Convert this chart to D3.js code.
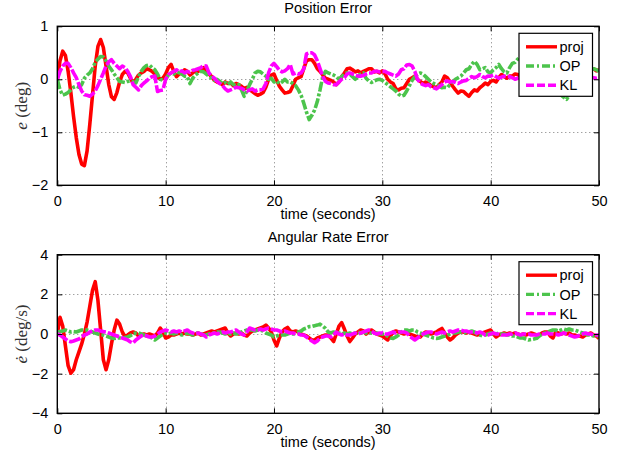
<!DOCTYPE html>
<html>
<head>
<meta charset="utf-8">
<script src="https://cdn.jsdelivr.net/npm/d3@7"></script>
<style>
  html, body { margin: 0; padding: 0; background: #fff; }
  svg { display: block; }
  text { font-family: "Liberation Sans", Arial, Helvetica, sans-serif; fill: #000; }
</style>
</head>
<body>
<svg id="fig" width="628" height="455"></svg>
<script>
// Sample times (s): one sample every 0.25 s from 0 to 50
const sampleStep = 0.25;
const time = d3.range(0, 201).map(i => i * sampleStep);

const seriesNames = ["proj", "OP", "KL"];
const xTicks = [0, 10, 20, 30, 40, 50];
const posTicks = [-2, -1, 0, 1];
const rateTicks = [-4, -2, 0, 2, 4];

// Position error e (deg)
const posProj = [
  0, 0.35, 0.53, 0.45,   0.15, -0.25, -0.7, -1.1,   -1.42, -1.6, -1.63, -1.35,
  -0.85, -0.3, 0.25, 0.62,   0.75, 0.6, 0.25, -0.1,   -0.33, -0.38, -0.25, -0.05,
  0.09, 0.15, 0.12, 0.02,   -0.07, 0.0, 0.08, 0.12,   0.15, 0.2, 0.18, 0.15,
  0.1, 0.05, 0.0, 0.02,   0.1, 0.22, 0.28, 0.15,   0.05, 0.1, 0.12, 0.18,
  0.15, 0.08, 0.12, 0.16,   0.15, 0.2, 0.22, 0.15,   0.1, 0.05, -0.02, -0.05,
  -0.07, -0.1, -0.05, -0.08,   -0.07, -0.12, -0.08, -0.1,   -0.13, -0.18, -0.15, -0.2,
  -0.23, -0.27, -0.3, -0.28,   -0.25, -0.15, 0.0, 0.08,   0.1, -0.02, -0.13, -0.2,
  -0.26, -0.25, -0.23, -0.12,   0.0, 0.03, 0.05, 0.2,   0.35, 0.37, 0.37, 0.3,
  0.2, 0.15, 0.08, 0.02,   0.0, -0.02, -0.05, -0.1,   -0.05, 0.05, 0.12, 0.2,
  0.21, 0.18, 0.14, 0.16,   0.12, 0.15, 0.17, 0.2,   0.2, 0.14, 0.15, 0.12,
  0.16, 0.1, 0.0, -0.05,   -0.08, -0.18, -0.2, -0.17,   -0.16, -0.08, 0.0, 0.03,
  0.06, 0.0, -0.04, -0.08,   -0.05, -0.08, -0.12, -0.14,   -0.16, -0.1, -0.05, 0.06,
  0.03, -0.05, -0.13, -0.2,   -0.26, -0.22, -0.23, -0.28,   -0.32, -0.25, -0.2, -0.22,
  -0.16, -0.12, -0.07, -0.1,   -0.04, -0.02, -0.05, 0.03,   0.09, 0.05, 0.02, 0.06,
  0.06, 0.1, 0.09, 0.05,   0.02, 0.05, 0.1, 0.12,   0.08, 0.1, 0.14, 0.1,
  0.06, 0.08, 0.12, 0.15,   0.1, 0.05, 0.08, 0.12,   0.15, 0.1, 0.06, 0.1,
  0.14, 0.18, 0.12, 0.1,   0.15, 0.18, 0.2, 0.16,   0.18
];
const posOP = [
  0, -0.2, -0.3, -0.28,   -0.25, -0.2, -0.15, -0.13,   -0.15, -0.1, 0.02, 0.08,
  0.12, 0.2, 0.32, 0.38,   0.43, 0.42, 0.35, 0.25,   0.18, 0.1, 0.03, -0.04,
  -0.05, -0.06, -0.04, -0.03,   -0.05, -0.07, 0.05, 0.15,   0.22, 0.26, 0.27, 0.22,
  0.18, 0.1, 0.0, -0.02,   0.0, 0.08, 0.12, 0.1,   0.14, 0.12, 0.1, 0.06,
  0.05, -0.08, 0.02, 0.08,   0.12, 0.15, 0.14, 0.1,   0.06, 0.02, -0.02, 0.0,
  -0.04, -0.08, -0.06, -0.1,   -0.05, -0.1, -0.12, -0.1,   -0.2, -0.32, -0.22, -0.1,
  0.0, 0.12, 0.15, 0.14,   0.1, 0.06, 0.0, 0.02,   -0.05, -0.03, -0.08, -0.05,
  0.0, -0.05, -0.05, -0.08,   -0.12, -0.2, -0.3, -0.45,   -0.62, -0.76, -0.68, -0.58,
  -0.42, -0.2, 0.05, 0.15,   0.12, 0.1, 0.08, 0.05,   0.0, 0.05, 0.1, 0.12,
  0.1, 0.05, 0.0, 0.05,   0.1, 0.12, 0.02, -0.03,   -0.06, -0.03, -0.01, 0.0,
  -0.02, -0.06, -0.1, -0.14,   -0.18, -0.22, -0.28, -0.32,   -0.3, -0.22, -0.12, -0.02,
  0.05, 0.1, 0.12, 0.1,   0.05, 0.0, -0.05, -0.08,   -0.1, -0.12, -0.16, -0.15,
  -0.16, -0.1, -0.04, 0.0,   0.03, 0.06, 0.12, 0.18,   0.2, 0.28, 0.34, 0.28,
  0.18, 0.2, 0.22, 0.14,   0.12, 0.18, 0.22, 0.28,   0.2, 0.14, 0.12, 0.22,
  0.3, 0.32, 0.38, 0.42,   0.35, 0.3, 0.25, 0.2,   0.15, 0.1, 0.05, 0.0,
  -0.05, -0.1, -0.15, -0.2,   -0.22, -0.26, -0.3, -0.34,   -0.38, -0.3, -0.2, -0.1,
  0.0, 0.05, 0.1, 0.12,   0.15, 0.18, 0.2, 0.18,   0.15
];
const posKL = [
  0, 0.15, 0.25, 0.3,   0.3, 0.22, 0.12, 0.03,   -0.1, -0.22, -0.29, -0.3,
  -0.32, -0.28, -0.22, -0.12,   0.0, 0.12, 0.25, 0.33,   0.37, 0.3, 0.25, 0.2,
  0.25, 0.22, 0.15, 0.05,   -0.1, -0.15, -0.2, -0.12,   -0.07, -0.03, 0.02, 0.05,
  0.06, -0.23, -0.21, -0.2,   0.0, 0.09, 0.12, 0.15,   0.18, 0.14, 0.16, 0.12,
  0.15, 0.13, 0.17, 0.18,   0.2, 0.22, 0.26, 0.25,   0.12, 0.06, 0.02, -0.04,
  -0.08, -0.12, -0.18, -0.22,   -0.2, -0.18, -0.15, -0.16,   -0.17, -0.2, -0.22, -0.2,
  -0.18, -0.22, -0.2, -0.2,   -0.18, -0.08, 0.12, 0.25,   0.3, 0.24, 0.17, 0.14,
  0.16, 0.2, 0.28, 0.1,   0.12, 0.1, 0.12, 0.2,   0.48, 0.5, 0.5, 0.46,
  0.35, 0.2, 0.05, -0.04,   -0.07, -0.08, -0.1, -0.1,   -0.05, 0.0, 0.03, 0.1,
  0.12, 0.1, 0.08, 0.06,   0.06, 0.07, 0.1, 0.12,   0.12, 0.15, 0.15, 0.14,
  0.15, 0.15, 0.12, 0.1,   0.08, 0.06, 0.1, 0.18,   0.2, 0.27, 0.28, 0.25,
  0.15, 0.0, -0.07, -0.1,   -0.12, -0.1, -0.14, -0.16,   -0.18, -0.14, -0.1, -0.05,
  -0.03, -0.05, -0.04, -0.06,   -0.08, -0.05, -0.03, -0.02,   0.02, 0.05, 0.03, 0.05,
  0.09, 0.05, 0.03, 0.06,   0.06, 0.08, 0.05, 0.02,   0.04, 0.06, 0.05, 0.05,
  0.03, 0.0, 0.02, 0.05,   0.04, 0.06, 0.08, 0.05,   0.03, 0.05, 0.07, 0.04,
  0.02, 0.04, 0.06, 0.05,   0.03, 0.05, 0.08, 0.06,   0.05, 0.07, 0.04, 0.02,
  0.04, 0.06, 0.05, 0.03,   0.02, 0.04, 0.03, 0.02,   0.03
];

// Angular rate error (deg/s)
const rateProj = [
  0, 0.84, 0.4, -0.6,   -1.6, -1.98, -1.8, -1.3,   -0.9, -0.5, 0.0, 0.6,
  1.4, 2.2, 2.64, 1.7,   0.2, -1.3, -1.8, -1.3,   -0.5, 0.2, 0.7, 0.5,
  0.1, -0.13, -0.05, 0.05,   0.1, 0.05, -0.1, -0.05,   0.0, -0.05, 0.0, -0.05,
  -0.1, 0.05, 0.3, 0.1,   -0.2, -0.15, -0.05, -0.05,   0.0, 0.05, 0.0, 0.05,
  0.0, 0.0, -0.05, 0.0,   0.05, -0.05, 0.0, 0.05,   0.1, 0.15, 0.1, 0.15,
  0.2, 0.25, 0.3, 0.05,   -0.1, 0.0, 0.05, 0.0,   0.05, -0.05, -0.1, 0.05,
  0.15, 0.2, 0.25, 0.3,   0.35, 0.45, 0.3, 0.1,   -0.3, -0.6, -0.2, 0.1,
  0.25, 0.33, 0.15, 0.1,   0.15, 0.1, 0.0, -0.05,   -0.1, -0.2, -0.3, -0.3,
  -0.2, -0.15, -0.1, -0.05,   -0.05, -0.2, -0.38, 0.0,   0.4, 0.57, 0.25, -0.1,
  -0.38, -0.2, 0.0, 0.1,   0.2, 0.15, 0.0, 0.1,   0.2, 0.1, 0.0, -0.05,
  -0.1, -0.2, -0.3, -0.1,   0.1, 0.15, 0.1, 0.05,   0.0, 0.05, 0.0, -0.05,
  -0.1, -0.15, -0.15, 0.0,   0.1, 0.05, 0.0, 0.05,   0.1, 0.2, 0.28, 0.05,
  -0.15, -0.3, -0.2, -0.05,   0.05, 0.1, 0.1, 0.05,   0.1, 0.05, 0.0, -0.05,
  0.0, 0.05, 0.1, 0.15,   0.2, 0.0, -0.15, -0.05,   0.0, 0.05, 0.0, 0.05,
  0.0, 0.05, 0.0, -0.05,   0.0, -0.05, 0.0, 0.05,   0.0, -0.05, -0.05, 0.05,
  0.1, 0.1, -0.1, -0.2,   0.1, 0.05, 0.0, 0.05,   0.0, 0.05, -0.05, -0.05,
  -0.1, -0.1, -0.15, -0.05,   0.0, 0.05, -0.05, -0.1,   -0.22
];
const rateOP = [
  0.1, 0.12, 0.15, 0.2,   0.15, 0.1, 0.12, 0.1,   0.15, 0.2, 0.2, 0.2,
  0.15, 0.1, 0.05, 0.0,   -0.05, -0.05, -0.1, -0.15,   -0.2, -0.22, -0.2, -0.2,
  -0.22, -0.18, -0.15, -0.08,   0.0, 0.05, 0.05, 0.0,   -0.05, -0.1, -0.15, -0.2,
  -0.3, -0.2, -0.1, 0.0,   0.05, 0.0, 0.05, 0.0,   0.05, 0.0, -0.05, 0.0,
  0.05, 0.0, -0.05, 0.0,   0.05, 0.0, -0.05, -0.05,   0.0, 0.05, 0.05, 0.1,
  0.1, 0.05, 0.0, 0.05,   0.0, 0.05, 0.0, 0.05,   0.1, 0.15, 0.2, 0.2,
  0.2, 0.15, 0.2, 0.2,   0.15, 0.05, 0.0, -0.05,   -0.15, -0.1, -0.05, -0.05,
  -0.05, 0.0, 0.05, 0.0,   0.05, 0.1, 0.15, 0.25,   0.3, 0.37, 0.38, 0.42,
  0.45, 0.5, 0.4, 0.28,   0.1, 0.05, 0.1, 0.05,   0.05, 0.0, 0.05, 0.0,
  0.05, 0.0, 0.05, 0.1,   0.05, 0.1, 0.05, 0.05,   0.05, 0.0, 0.05, 0.0,
  0.0, -0.05, -0.1, -0.2,   -0.22, -0.15, -0.05, 0.1,   0.2, 0.2, 0.15, 0.2,
  0.2, 0.1, 0.05, 0.0,   -0.05, -0.1, -0.15, -0.2,   -0.22, -0.2, -0.15, -0.1,
  -0.05, 0.0, 0.05, 0.05,   0.1, 0.1, 0.05, 0.1,   0.1, 0.15, 0.1, 0.0,
  -0.05, -0.1, -0.05, 0.0,   0.05, 0.0, 0.0, 0.05,   0.0, 0.0, -0.05, -0.05,
  -0.1, -0.1, -0.15, -0.2,   -0.2, -0.25, -0.3, -0.28,   -0.25, -0.22, -0.1, 0.0,
  0.05, 0.1, 0.15, 0.2,   0.2, 0.15, 0.2, 0.25,   0.2, 0.25, 0.2, 0.2,
  0.15, 0.1, 0.05, 0.0,   -0.05, -0.05, -0.1, -0.1,   -0.1
];
const rateKL = [
  0.0, -0.05, -0.15, -0.25,   -0.35, -0.39, -0.35, -0.3,   -0.25, -0.15, -0.05, 0.0,
  0.1, 0.15, 0.2, 0.2,   0.15, 0.12, 0.1, 0.05,   0.0, -0.05, -0.1, -0.15,
  -0.2, -0.25, -0.3, -0.4,   -0.45, -0.3, -0.2, -0.1,   -0.05, -0.1, -0.15, -0.15,
  -0.1, 0.0, 0.1, 0.15,   0.2, 0.15, 0.1, 0.15,   0.1, 0.15, 0.1, 0.15,
  0.2, 0.1, 0.05, 0.0,   0.05, 0.0, -0.05, -0.15,   -0.05, 0.0, 0.05, 0.0,
  0.05, 0.1, 0.05, 0.1,   0.1, 0.15, 0.2, 0.1,   0.0, -0.05, 0.1, 0.3,
  0.25, 0.2, 0.2, 0.25,   0.2, 0.25, 0.3, 0.25,   0.2, 0.2, 0.15, 0.1,
  0.15, 0.1, 0.05, 0.05,   0.0, 0.0, -0.05, -0.05,   -0.15, -0.25, -0.35, -0.44,
  -0.35, -0.2, -0.15, -0.1,   -0.1, -0.15, -0.05, 0.1,   0.0, -0.05, 0.0, -0.05,
  -0.05, 0.0, 0.05, 0.0,   0.05, 0.1, 0.15, 0.2,   0.15, 0.05, 0.0, 0.05,
  0.05, 0.0, 0.0, 0.05,   0.1, 0.05, 0.1, 0.1,   0.1, 0.05, -0.1, -0.2,
  -0.3, -0.2, -0.1, 0.0,   0.05, 0.1, 0.1, 0.05,   0.0, 0.05, 0.1, 0.05,
  0.1, 0.15, 0.1, 0.15,   0.2, 0.2, 0.15, 0.15,   0.1, 0.1, 0.1, 0.05,
  0.1, 0.05, -0.05, -0.05,   0.0, 0.05, 0.0, 0.0,   -0.05, -0.05, -0.05, 0.0,
  0.0, 0.05, 0.0, -0.05,   0.0, 0.0, 0.0, -0.05,   -0.05, -0.05, 0.0, 0.0,
  0.0, 0.05, 0.0, 0.0,   0.0, -0.05, 0.0, 0.05,   0.0, -0.05, -0.1, -0.15,
  -0.12, -0.05, 0.0, 0.05,   0.0, 0.0, -0.05, -0.05,   -0.05
];

const colors = { proj: "#ff0000", OP: "#4cc44c", KL: "#ff00ff" };
// dash patterns: legend samples and the (denser) plotted traces
const legendDashes = { proj: null, OP: "8,3,2,3", KL: "8,3" };
const traceDashes = { proj: null, OP: "10,2,3,2", KL: "12,2" };

const svg = d3.select("#fig");
const left = 57.3, right = 599;

function panel(cfg) {
  const x = d3.scaleLinear().domain([0, 50]).range([left, right]);
  const y = d3.scaleLinear().domain(cfg.domain).range([cfg.bottom, cfg.top]);
  const g = svg.append("g");

  const clipId = "clip-" + cfg.id;
  svg.append("defs").append("clipPath").attr("id", clipId)
    .append("rect").attr("x", left).attr("y", cfg.top)
    .attr("width", right - left).attr("height", cfg.bottom - cfg.top);

  // dotted grid
  const grid = g.append("g").attr("stroke", "#7a7a7a").attr("stroke-width", 1)
    .attr("stroke-dasharray", "1,3");
  xTicks.filter(t => t > 0 && t < 50).forEach(t => {
    grid.append("line").attr("x1", Math.round(x(t)) + 0.5).attr("x2", Math.round(x(t)) + 0.5)
      .attr("y1", cfg.top).attr("y2", cfg.bottom);
  });
  cfg.ticks.filter(t => t > cfg.domain[0] && t < cfg.domain[1]).forEach(t => {
    grid.append("line").attr("y1", Math.round(y(t)) + 0.5).attr("y2", Math.round(y(t)) + 0.5)
      .attr("x1", left).attr("x2", right);
  });

  // data lines
  const line = d3.line().x((d, i) => x(time[i])).y(d => y(d));
  const lines = g.append("g").attr("clip-path", `url(#${clipId})`);
  cfg.series.forEach((vals, k) => {
    const name = seriesNames[k];
    lines.append("path").datum(vals)
      .attr("d", line)
      .attr("fill", "none")
      .attr("stroke", colors[name])
      .attr("stroke-width", 3.6)
      .attr("stroke-linejoin", "round")
      .attr("stroke-dasharray", traceDashes[name]);
  });

  // axes with inward ticks on all sides
  const tickLen = 5;
  const ax = g.append("g");
  ax.append("g").attr("transform", `translate(0,${cfg.bottom})`)
    .call(d3.axisBottom(x).tickValues(xTicks).tickSizeInner(-tickLen).tickSizeOuter(0).tickPadding(10))
    .call(s => s.selectAll("text").attr("font-size", 14.5).attr("dy", "0.71em"));
  ax.append("g").attr("transform", `translate(0,${cfg.top})`)
    .call(d3.axisTop(x).tickValues(xTicks).tickSizeInner(-tickLen).tickSizeOuter(0).tickFormat(""));
  ax.append("g").attr("transform", `translate(${left},0)`)
    .call(d3.axisLeft(y).tickValues(cfg.ticks).tickSizeInner(-tickLen).tickSizeOuter(0).tickPadding(9)
      .tickFormat(d => d < 0 ? "\u2212" + Math.abs(d) : String(d)))
    .call(s => s.selectAll("text").attr("font-size", 14.5));
  ax.append("g").attr("transform", `translate(${right},0)`)
    .call(d3.axisRight(y).tickValues(cfg.ticks).tickSizeInner(-tickLen).tickSizeOuter(0).tickFormat(""));
  ax.selectAll(".domain").remove();
  ax.selectAll("line").attr("stroke", "#000").attr("stroke-width", 1);
  ax.selectAll("text").attr("fill", "#000").attr("font-family", "Liberation Sans, Arial, sans-serif");

  g.append("rect").attr("x", left).attr("y", cfg.top)
    .attr("width", right - left).attr("height", cfg.bottom - cfg.top)
    .attr("fill", "none").attr("stroke", "#000").attr("stroke-width", 1.4);

  // title and x label
  g.append("text").attr("x", (left + right) / 2).attr("y", cfg.top - 13)
    .attr("text-anchor", "middle").attr("font-size", 14.5).text(cfg.title);
  g.append("text").attr("x", (left + right) / 2).attr("y", cfg.bottom + 34)
    .attr("text-anchor", "middle").attr("font-size", 14.5).text("time (seconds)");

  // y label in serif, symbol in italics
  const yl = g.append("text")
    .attr("transform", `translate(27,${(cfg.top + cfg.bottom) / 2}) rotate(-90)`)
    .attr("text-anchor", "middle")
    .attr("font-size", 17)
    .style("font-family", "'Liberation Serif', 'DejaVu Serif', serif")
    .style("fill", "#333");
  yl.append("tspan").attr("font-style", "italic").text(cfg.symbol);
  yl.append("tspan").text(" (" + cfg.unit + ")");

  // legend
  const lg = g.append("g").attr("transform", `translate(519,${cfg.top + 7})`);
  lg.append("rect").attr("x", 0).attr("y", 0).attr("width", 73.5).attr("height", 63)
    .attr("fill", "#fff").attr("stroke", "#000").attr("stroke-width", 1.2);
  seriesNames.forEach((name, k) => {
    const cy = 13.5 + k * 19.2;
    lg.append("line").attr("x1", 7).attr("x2", 38).attr("y1", cy).attr("y2", cy)
      .attr("stroke", colors[name]).attr("stroke-width", 3.4)
      .attr("stroke-dasharray", legendDashes[name]);
    lg.append("text").attr("x", 40.5).attr("y", cy).attr("dy", "0.36em")
      .attr("font-size", 14.5).text(name);
  });
}

panel({
  id: "pos", top: 26.3, bottom: 185.3, domain: [-2, 1], ticks: posTicks,
  series: [posProj, posOP, posKL], title: "Position Error", symbol: "e", unit: "deg"
});
panel({
  id: "rate", top: 254.7, bottom: 413.3, domain: [-4, 4], ticks: rateTicks,
  series: [rateProj, rateOP, rateKL], title: "Angular Rate Error", symbol: "\u0117", unit: "deg/s"
});
</script>
</body>
</html>
